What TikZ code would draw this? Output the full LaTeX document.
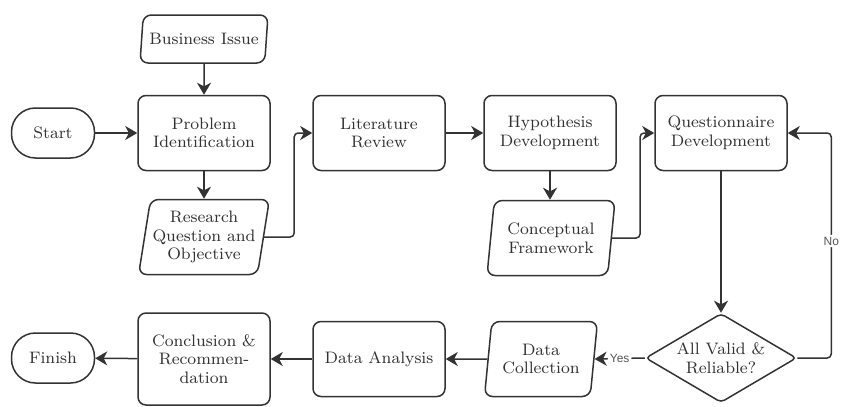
\documentclass[tikz,border=0pt]{standalone}
\usepackage{fontspec}
\newfontfamily\labelfont{Liberation Sans}
\definecolor{LineColor}{RGB}{51,51,51}
\definecolor{TextColor}{RGB}{50,50,50}
\definecolor{LabelGray}{RGB}{85,85,85}
\usetikzlibrary{arrows.meta, shapes.geometric, calc}
\tikzset{
  boxfont/.style={font=\fontsize{8.3}{9.3}\selectfont, text=TextColor, align=center},
  procbox/.style={boxfont, draw=LineColor, line width=0.75pt, rounded corners=4pt,
    minimum width=66pt, minimum height=37.5pt, inner sep=2pt},
  databox/.style={boxfont, draw=LineColor, line width=0.75pt, rounded corners=4pt,
    trapezium, trapezium left angle=78, trapezium right angle=102,
    trapezium stretches body=true, minimum width=64pt, minimum height=37.5pt, inner sep=1pt},
  termbox/.style={boxfont, draw=LineColor, line width=0.75pt, rounded corners=12pt,
    minimum width=41.5pt, minimum height=25pt},
  decbox/.style={boxfont, draw=LineColor, line width=0.75pt, diamond, aspect=1.7,
    rounded corners=2pt, minimum width=75.5pt, minimum height=44.5pt, inner sep=0pt},
  flow/.style={draw=LineColor, line width=0.75pt, rounded corners=2pt,
    -{Stealth[length=6pt, width=7pt, inset=1.8pt]}},
  lbl/.style={font=\labelfont\fontsize{6}{6.5}\selectfont, text=LabelGray, fill=white, inner sep=1pt}
}

\begin{document}
\begin{tikzpicture}[x=0.5pt, y=-0.5pt]
  \useasboundingbox (0,0) rectangle (841,407);

  % top row
  \node[termbox] (start) at (53,133) {Start};
  \node[databox, minimum height=24pt] (biz) at (204,39) {Business Issue};
  \node[procbox] (prob) at (204,133) {Problem\\Identification};
  \node[databox] (resq) at (204,237) {Research\\Question and\\Objective};
  \node[procbox] (lit) at (379,133) {Literature\\Review};
  \node[procbox] (hyp) at (550,133) {Hypothesis\\Development};
  \node[databox] (conc) at (551,238) {Conceptual\\Framework};
  \node[procbox] (quest) at (721,133) {Questionnaire\\Development};

  % bottom row
  \node[decbox] (valid) at (721,358) {All Valid \&\\Reliable?};
  \node[databox, minimum width=56.5pt] (collect) at (541,359) {Data\\Collection};
  \node[procbox] (analysis) at (379,359) {Data Analysis};
  \node[procbox, minimum height=46pt] (concl) at (204,359) {Conclusion \&\\Recommen-\\dation};
  \node[termbox] (finish) at (53,358) {Finish};

  % connectors
  \draw[flow] (start) -- (prob);
  \draw[flow] (biz) -- (prob);
  \draw[flow] (prob) -- (resq);
  \draw[flow] (resq.east) -- ++(15pt,0) |- (lit.west);
  \draw[flow] (lit) -- (hyp);
  \draw[flow] (hyp.south) -- (hyp.south |- conc.north);
  \draw[flow] (conc.east) -- ++(14pt,0) |- (quest.west);
  \draw[flow] (quest) -- (valid);
  \draw[flow] (valid.east) -- ++(17pt,0) |- node[lbl, pos=0.26] {No} (quest.east);
  \draw[flow] (valid.west) -- node[lbl] {Yes} (collect.east);
  \draw[flow] (collect.west) -- (analysis.east);
  \draw[flow] (analysis) -- (concl);
  \draw[flow] (concl) -- (finish);
\end{tikzpicture}
\end{document}
